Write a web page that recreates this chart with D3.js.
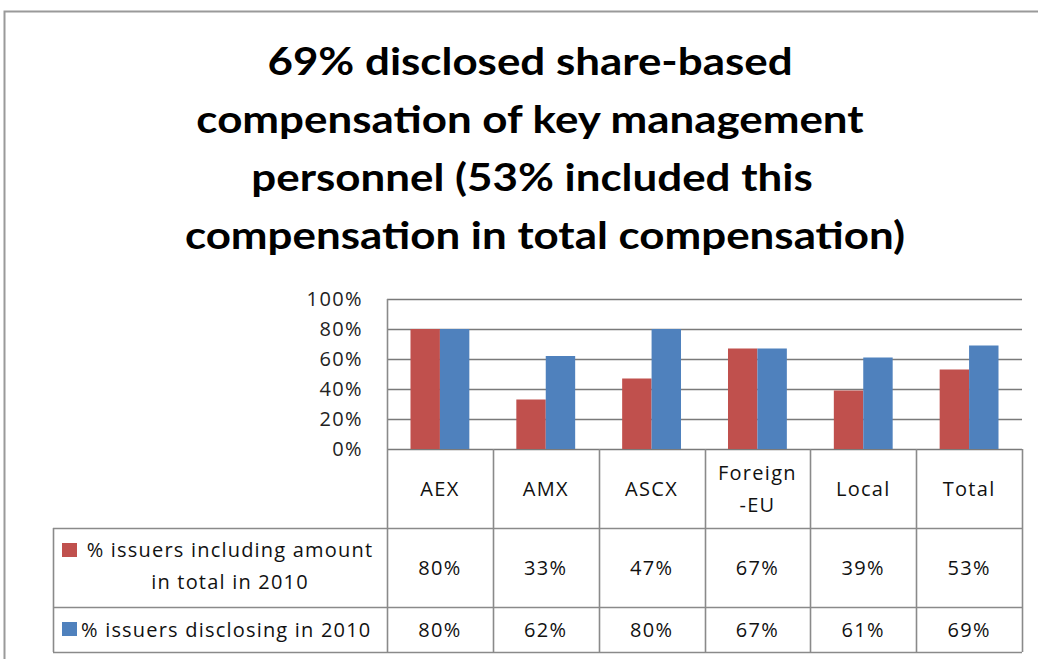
<!DOCTYPE html>
<html>
<head>
<meta charset="utf-8">
<script src="https://cdn.jsdelivr.net/npm/d3@7"></script>
<style>
  body { margin: 0; background: #fff; }
  text { font-family: Lato, "Open Sans", sans-serif; }
</style>
</head>
<body>
<script>
// chart data
var categories = ["AEX", "AMX", "ASCX", "Foreign-EU", "Local", "Total"];
var catLabels = [["AEX"], ["AMX"], ["ASCX"], ["Foreign", "-EU"], ["Local"], ["Total"]];
var seriesNames = ["% issuers including amount in total  in 2010", "% issuers disclosing in 2010"];
var legendLines = [["% issuers including amount", "in total  in 2010"], ["% issuers disclosing in 2010"]];
var includingTotal = [0.80, 0.33, 0.47, 0.67, 0.39, 0.53];
var disclosing = [0.80, 0.62, 0.80, 0.67, 0.61, 0.69];
var yTicks = [0, 0.2, 0.4, 0.6, 0.8, 1.0];
var titleLines = ["69% disclosed share-based", "compensation of key management",
                  "personnel (53% included this", "compensation in total compensation)"];
var colors = ["#C0504D", "#4F81BD"];

var width = 1038, height = 659;
var series = [includingTotal, disclosing];

var svg = d3.select("body").append("svg")
    .attr("width", width)
    .attr("height", height);

// outer chart frame
svg.append("rect")
    .attr("x", 4.5).attr("y", 11.5)
    .attr("width", width + 10).attr("height", height + 10)
    .attr("fill", "none")
    .attr("stroke", "#9a9a9a")
    .attr("stroke-width", 2);

// title (the original font is wider, so stretch it a bit)
var titleX = [530, 530, 532, 545];
svg.append("g").selectAll("text")
    .data(titleLines)
  .enter().append("text")
    .attr("transform", function(d, i) { return "translate(" + titleX[i] + "," + (75 + i * 58) + ") scale(1.155,1)"; })
    .attr("text-anchor", "middle")
    .style("font-weight", "bold")
    .style("font-size", "38px")
    .style("fill", "#000")
    .text(function(d) { return d; });

var plotLeft = 387, plotRight = 1022, plotTop = 299, plotBottom = 449;
var tableLeft = 53, row1 = 528, row2 = 607, tableBottom = 652;

var x = d3.scaleBand()
    .domain(categories)
    .range([plotLeft, plotRight]);

var y = d3.scaleLinear()
    .domain([0, 1])
    .range([plotBottom, plotTop]);

var bw = x.bandwidth();
var xs = d3.scaleBand()
    .domain([0, 1])
    .range([bw * 0.222, bw * 0.778]);

// gridlines
svg.append("g").selectAll("line")
    .data(yTicks)
  .enter().append("line")
    .attr("x1", plotLeft).attr("x2", plotRight)
    .attr("y1", function(d) { return Math.round(y(d)) + 0.5; })
    .attr("y2", function(d) { return Math.round(y(d)) + 0.5; })
    .attr("stroke", "#7a7a7a")
    .attr("stroke-width", 1.6);

var cellFont = "'Open Sans', sans-serif";

// y axis labels
var yAxis = d3.axisLeft(y)
    .tickValues(yTicks)
    .tickFormat(d3.format(".0%"))
    .tickSize(0)
    .tickPadding(0);

var ya = svg.append("g")
    .attr("transform", "translate(363,0)")
    .call(yAxis);
ya.select(".domain").remove();
ya.selectAll("text")
    .style("font-family", cellFont)
    .style("font-size", "20px")
    .style("letter-spacing", "1.4px")
    .style("fill", "#222");

// bars
var groups = svg.append("g").selectAll("g")
    .data(categories)
  .enter().append("g")
    .attr("transform", function(d) { return "translate(" + x(d) + ",0)"; });

groups.selectAll("rect")
    .data(function(d, i) { return series.map(function(s, j) { return {s: j, v: s[i]}; }); })
  .enter().append("rect")
    .attr("x", function(d) { return xs(d.s); })
    .attr("width", xs.bandwidth())
    .attr("y", function(d) { return y(d.v); })
    .attr("height", function(d) { return plotBottom - y(d.v); })
    .attr("fill", function(d) { return colors[d.s]; });

// data table lines
var tbl = svg.append("g")
    .attr("stroke", "#8a8a8a")
    .attr("stroke-width", 1.6)
    .attr("fill", "none");

// vertical lines at category boundaries
var bounds = categories.map(function(c) { return x(c); }).concat([plotRight]);
tbl.selectAll("line.v")
    .data(bounds)
  .enter().append("line")
    .attr("class", "v")
    .attr("x1", function(d) { return Math.round(d) + 0.5; })
    .attr("x2", function(d) { return Math.round(d) + 0.5; })
    .attr("y1", function(d, i) { return i == 0 ? plotTop : plotBottom; })
    .attr("y2", tableBottom);

tbl.append("line")
    .attr("x1", tableLeft + 0.5).attr("x2", tableLeft + 0.5)
    .attr("y1", row1).attr("y2", tableBottom);

tbl.selectAll("line.h")
    .data([row1, row2, tableBottom])
  .enter().append("line")
    .attr("class", "h")
    .attr("x1", tableLeft).attr("x2", plotRight)
    .attr("y1", function(d) { return d + 0.5; })
    .attr("y2", function(d) { return d + 0.5; });

function cellText(sel) {
  sel.attr("text-anchor", "middle")
    .style("font-family", cellFont)
    .style("font-size", "20px")
    .style("letter-spacing", "1.3px")
    .style("fill", "#111");
}

// header labels
svg.append("g").selectAll("text")
    .data(categories)
  .enter().append("text")
    .call(cellText)
    .each(function(d, i) {
      var lines = catLabels[i];
      var cy = (plotBottom + row1) / 2;
      var t = d3.select(this);
      lines.forEach(function(l, k) {
        t.append("tspan")
          .attr("x", x(d) + bw / 2)
          .attr("y", cy + 7 + (k - (lines.length - 1) / 2) * 32)
          .text(l);
      });
    });

// values
var rowCenters = [(row1 + row2) / 2, (row2 + tableBottom) / 2];
series.forEach(function(s, j) {
  svg.append("g").selectAll("text")
      .data(s)
    .enter().append("text")
      .call(cellText)
      .attr("x", function(d, i) { return x(categories[i]) + bw / 2; })
      .attr("y", rowCenters[j] + 7)
      .text(function(d) { return d3.format(".0%")(d); });
});

// legend cells
var leg = svg.append("g");
leg.append("rect")
    .attr("x", 62).attr("y", 543).attr("width", 15).attr("height", 14)
    .attr("fill", colors[0]);
leg.append("text")
    .call(cellText)
    .style("letter-spacing", "1.2px")
    .selectAll("tspan")
    .data(legendLines[0])
  .enter().append("tspan")
    .attr("x", 230)
    .attr("y", function(d, i) { return 557 + i * 32; })
    .text(function(d) { return d; });

leg.append("rect")
    .attr("x", 62).attr("y", 622).attr("width", 15).attr("height", 14)
    .attr("fill", colors[1]);
leg.append("text")
    .call(cellText)
    .attr("text-anchor", "start")
    .style("letter-spacing", "1.2px")
    .attr("x", 81).attr("y", 637)
    .text(legendLines[1][0]);
</script>
</body>
</html>
